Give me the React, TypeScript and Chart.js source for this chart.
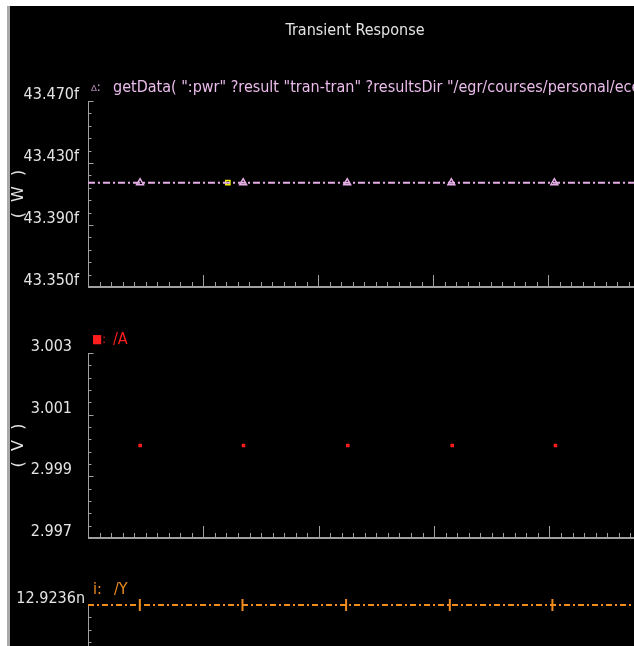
import React, { useEffect, useRef } from "react";
import { Chart, registerables } from "chart.js";

Chart.register(...registerables);

const FONT = "'Liberation Sans Narrow', 'DejaVu Sans Condensed', 'Liberation Sans', Arial, sans-serif";

// ---- data ----
const chartTitle = "Transient Response";
const xMin = 0;
const xMax = 5.27;
const markerTimes = [0.452, 1.348, 2.252, 3.157, 4.052];

// panel 1 : power
const pwrLineTimes = [0, 5.27];
const pwrLineValues = [43.4173, 43.4173];
const pwrMarkerValues = [43.4173, 43.4173, 43.4173, 43.4173, 43.4173];
const pwrCursorTimes = [1.215];
const pwrCursorValues = [43.4173];
const pwrTicks = [43.35, 43.39, 43.43, 43.47];
const pwrTickLabels = ["43.350f", "43.390f", "43.430f", "43.470f"];
const pwrLegend = "getData( \":pwr\" ?result \"tran-tran\" ?resultsDir \"/egr/courses/personal/ece4";

// panel 2 : /A
const aValues = [3.0, 3.0, 3.0, 3.0, 3.0];
const aTicks = [2.997, 2.999, 3.001, 3.003];
const aTickLabels = ["2.997", "2.999", "3.001", "3.003"];

// panel 3 : /Y
const yLineTimes = [0, 5.27];
const yLineValues = [12.9236, 12.9236];
const yMarkerValues = [12.9236, 12.9236, 12.9236, 12.9236, 12.9236];
const yTicks = [12.92, 12.9212, 12.9224, 12.9236];
const yTickLabels = ["12.9200n", "12.9212n", "12.9224n", "12.9236n"];

// ---- styles ----
const PINK = "#e6aee6";
const RED = "#ff1e1e";
const ORANGE = "#f08c1e";
const YELLOW = "#f0f000";
const AXIS = "#a0a0a0";
const TEXT = "#e4e4e4";

const cadenceAxes = {
  id: "cadenceAxes",
  beforeDatasetsDraw(chart: any, _args: any, opts: any) {
    const { ctx, chartArea: a, scales } = chart;
    const xs = scales.x;
    const ys = scales.y;
    const t: number[] = opts.yTicks;
    ctx.save();
    ctx.strokeStyle = AXIS;
    ctx.lineWidth = 1;
    const L = Math.round(a.left) + 0.5;
    ctx.beginPath();
    ctx.moveTo(L, a.top);
    ctx.lineTo(L, a.bottom);
    ctx.stroke();
    const step = t[1] - t[0];
    ctx.beginPath();
    for (let i = 0; i < t.length; i++) {
      const py = Math.round(ys.getPixelForValue(t[i])) + 0.5;
      ctx.moveTo(L, py);
      ctx.lineTo(L + 5, py);
      if (i < t.length - 1) {
        for (let k = 1; k < 5; k++) {
          const pm = Math.round(ys.getPixelForValue(t[i] + (step * k) / 5)) + 0.5;
          ctx.moveTo(L, pm);
          ctx.lineTo(L + 3, pm);
        }
      }
    }
    ctx.stroke();
    // x axis
    const B = Math.round(a.bottom);
    ctx.lineWidth = 2;
    ctx.beginPath();
    ctx.moveTo(a.left, B);
    ctx.lineTo(a.right, B);
    ctx.stroke();
    ctx.lineWidth = 1;
    ctx.beginPath();
    const n = Math.floor((xMax - xMin) * 10);
    for (let i = 1; i <= n; i++) {
      const px = Math.round(xs.getPixelForValue(xMin + i / 10)) + 0.5;
      const len = i % 10 === 0 ? 12 : 5;
      ctx.moveTo(px, B);
      ctx.lineTo(px, B - len);
    }
    ctx.stroke();
    ctx.restore();
  },
};

function yScale(min: number, max: number, ticks: number[], labels: string[], pad: number, title?: string) {
  return {
    type: "linear",
    min,
    max,
    afterBuildTicks: (s: any) => {
      s.ticks = ticks.map((v) => ({ value: v }));
    },
    afterFit: (s: any) => {
      s.width = 78;
      s.paddingTop = 0;
      s.paddingBottom = 0;
    },
    grid: { display: false, drawTicks: false },
    border: { display: false },
    ticks: {
      color: TEXT,
      font: { family: FONT, size: 16 },
      padding: pad,
      crossAlign: "center",
      labelOffset: -6,
      autoSkip: false,
      callback: (_v: any, i: number) => labels[i],
    },
    title: title
      ? {
          display: true,
          text: title,
          color: TEXT,
          font: { family: "'DejaVu Sans', sans-serif", size: 16, lineHeight: 1.15 },
          padding: 0,
        }
      : { display: false },
  };
}

const xScale = { type: "linear", min: xMin, max: xMax, display: false };

function pts(xsArr: number[], ysArr: number[]) {
  return xsArr.map((x, i) => ({ x, y: ysArr[i] }));
}

function cfg1(): any {
  return {
    type: "line",
    data: {
      datasets: [
        {
          data: pts(pwrLineTimes, pwrLineValues),
          borderColor: PINK,
          borderWidth: 2,
          borderDash: [7, 3, 2, 3],
          pointRadius: 0,
        },
        {
          data: pts(markerTimes, pwrMarkerValues),
          showLine: false,
          pointStyle: "triangle",
          pointRadius: 4,
          pointBorderColor: PINK,
          pointBackgroundColor: "rgba(0,0,0,0)",
          pointBorderWidth: 1.5,
        },
        {
          data: pts(pwrCursorTimes, pwrCursorValues),
          showLine: false,
          pointStyle: "rect",
          pointRadius: 3,
          pointBorderColor: YELLOW,
          pointBackgroundColor: "rgba(0,0,0,0)",
          pointBorderWidth: 1.5,
        },
      ],
    },
    options: {
      responsive: false,
      animation: false,
      events: [],
      layout: { padding: { top: 0, bottom: 13, left: 0, right: 0 } },
      scales: { x: xScale, y: yScale(43.35, 43.47, pwrTicks, pwrTickLabels, 9, "(  W  )") },
      plugins: {
        legend: { display: false },
        tooltip: { enabled: false },
        title: {
          display: true,
          text: chartTitle,
          color: TEXT,
          font: { family: FONT, size: 16, weight: "normal", lineHeight: 1.2 },
          padding: { top: 15, bottom: 60.8 },
        },
        cadenceAxes: { yTicks: pwrTicks },
      },
    },
    plugins: [cadenceAxes],
  };
}

function cfg2(): any {
  return {
    type: "line",
    data: {
      datasets: [
        {
          data: pts(markerTimes, aValues),
          showLine: false,
          pointStyle: "rect",
          pointRadius: 2.5,
          pointBorderWidth: 0,
          pointBackgroundColor: RED,
          pointBorderColor: RED,
        },
      ],
    },
    options: {
      responsive: false,
      animation: false,
      events: [],
      layout: { padding: { top: 53, bottom: 12, left: 0, right: 0 } },
      scales: { x: xScale, y: yScale(2.997, 3.003, aTicks, aTickLabels, 16, "(  V  )") },
      plugins: {
        legend: { display: false },
        tooltip: { enabled: false },
        cadenceAxes: { yTicks: aTicks },
      },
    },
    plugins: [cadenceAxes],
  };
}

function cfg3(): any {
  return {
    type: "line",
    data: {
      datasets: [
        {
          data: pts(yLineTimes, yLineValues),
          borderColor: ORANGE,
          borderWidth: 2,
          borderDash: [6, 3, 2, 3],
          pointRadius: 0,
          clip: false,
        },
        {
          data: pts(markerTimes, yMarkerValues),
          showLine: false,
          pointStyle: "line",
          pointRotation: 90,
          pointRadius: 6,
          pointBorderColor: ORANGE,
          pointBorderWidth: 2,
          clip: false,
        },
      ],
    },
    options: {
      responsive: false,
      animation: false,
      events: [],
      layout: { padding: { top: 49, bottom: 15, left: 0, right: 0 } },
      scales: { x: xScale, y: yScale(12.92, 12.9236, yTicks, yTickLabels, 3) },
      plugins: {
        legend: { display: false },
        tooltip: { enabled: false },
        cadenceAxes: { yTicks: yTicks },
      },
    },
    plugins: [cadenceAxes],
  };
}

const legendFont: React.CSSProperties = {
  position: "absolute",
  fontFamily: FONT,
  fontSize: 16,
  lineHeight: "18px",
  whiteSpace: "nowrap",
};

export default function App() {
  const r1 = useRef<HTMLCanvasElement>(null);
  const r2 = useRef<HTMLCanvasElement>(null);
  const r3 = useRef<HTMLCanvasElement>(null);

  useEffect(() => {
    const charts = [
      new Chart(r1.current!, cfg1()),
      new Chart(r2.current!, cfg2()),
      new Chart(r3.current!, cfg3()),
    ];
    return () => charts.forEach((c) => c.destroy());
  }, []);

  const cv = (top: number, h: number): React.CSSProperties => ({
    position: "absolute",
    left: 10,
    top,
    width: 690,
    height: h,
  });

  return (
    <div
      style={{
        position: "fixed",
        left: 0,
        top: 0,
        width: 634,
        height: 646,
        background: "#ffffff",
        overflow: "hidden",
      }}
    >
      <div style={{ position: "absolute", left: 7, top: 6, width: 3, height: 640, background: "#a9a9a9" }} />
      <div style={{ position: "absolute", left: 10, top: 6, width: 624, height: 640, background: "#000000" }} />
      <canvas ref={r1} width={690} height={294} style={cv(6, 294)} />
      <canvas ref={r2} width={690} height={250} style={cv(300, 250)} />
      <canvas ref={r3} width={690} height={250} style={cv(556, 250)} />

      <div style={{ ...legendFont, left: 91, top: 78, color: PINK, fontSize: 13 }}>▵:</div>
      <div style={{ ...legendFont, left: 113, top: 78, color: "#ecbcec" }}>{pwrLegend}</div>

      <div style={{ ...legendFont, left: 92, top: 330, color: RED, fontSize: 12 }}>■:</div>
      <div style={{ ...legendFont, left: 113, top: 330, color: RED }}>/A</div>

      <div style={{ ...legendFont, left: 93, top: 580, color: ORANGE }}>i:</div>
      <div style={{ ...legendFont, left: 114, top: 580, color: ORANGE }}>/Y</div>
    </div>
  );
}
